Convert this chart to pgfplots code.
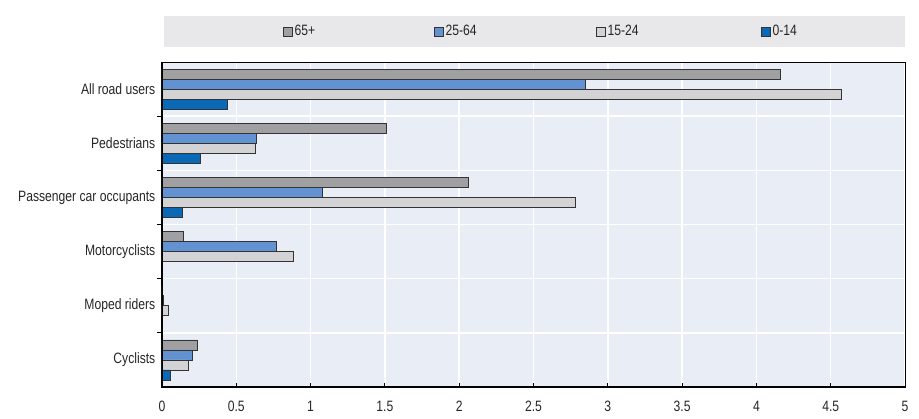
\documentclass[border=0pt]{standalone}
\usepackage{fontspec}
\setmainfont{Liberation Sans}[FakeStretch=0.81]
\usepackage{pgfplots}
\pgfplotsset{compat=1.18}
\definecolor{cOld}{HTML}{A0A0A2}
\definecolor{cAdult}{HTML}{6292D2}
\definecolor{cYouth}{HTML}{D3D3D5}
\definecolor{cChild}{HTML}{0A69B6}
\definecolor{plotbg}{HTML}{E9EDF6}
\definecolor{legbg}{HTML}{E8E8EA}
\definecolor{barline}{HTML}{333333}
\begin{document}
\fontsize{15bp}{17bp}\selectfont
\begin{tikzpicture}
\useasboundingbox (-162bp,-32bp) rectangle (757bp,387bp);
\fill[legbg] (2bp,340.3bp) rectangle (743bp,371bp);
\begin{axis}[
  at={(0,0)}, anchor=south west,
  scale only axis, width=743bp, height=325bp,
  xmin=0, xmax=5, ymin=-0.5, ymax=5.5,
  axis background/.style={fill=plotbg},
  axis line style={black, line width=1bp},
  xtick={0,0.5,...,5},
  ytick={0,1,2,3,4,5},
  yticklabels={Cyclists,Moped riders,Motorcyclists,Passenger car occupants,Pedestrians,All road users},
  minor ytick={0.5,1.5,2.5,3.5,4.5},
  tick align=inside, tick pos=left,
  major tick length=4.5bp, minor tick length=4.5bp,
  major y tick style={draw=none},
  minor y tick style={draw=black, line width=1bp},
  major x tick style={draw=black, line width=1bp},
  xmajorgrids, yminorgrids,
  major grid style={white, line width=1.5bp},
  minor grid style={white, line width=1.5bp},
  /pgf/number format/assume math mode=true,
  ticklabel style={font=\fontsize{15bp}{17bp}\selectfont, text=black!85},
  yticklabel style={inner sep=0pt, xshift=-2bp},
  xticklabel style={inner sep=0pt, yshift=-14bp},
  xbar, bar width=10bp,
  every axis plot/.append style={draw=barline, line width=0.6bp},
  legend columns=4,
  legend image code/.code={\draw[#1, line width=0.6bp] (0bp,-4.5bp) rectangle (9bp,4.5bp);},
  legend style={at={(axis description cs:0.5,1)}, anchor=center, xshift=15.3bp, yshift=30.5bp,
    draw=none, fill=none, font=\fontsize{15bp}{17bp}\selectfont, text=black!85,
    nodes={inner sep=1.5bp}, column sep=0pt},
]
\addplot[fill=cOld, bar shift=15bp] coordinates {
  (4.16,5) (1.51,4) (2.06,3) (0.145,2) (0.005,1) (0.24,0)};
\addlegendentry[text width=138.4bp, align=left]{65+}
\addplot[fill=cAdult, bar shift=5bp] coordinates {
  (2.85,5) (0.635,4) (1.08,3) (0.772,2) (0.012,1) (0.207,0)};
\addlegendentry[text width=149.4bp, align=left]{25-64}
\addplot[fill=cYouth, bar shift=-5bp] coordinates {
  (4.57,5) (0.628,4) (2.78,3) (0.886,2) (0.04,1) (0.175,0)};
\addlegendentry[text width=152.4bp, align=left]{15-24}
\addplot[fill=cChild, bar shift=-15bp] coordinates {
  (0.442,5) (0.256,4) (0.135,3) (0.056,0)};
\addlegendentry[text width=40bp, align=left]{0-14}
\draw[black, line width=2bp] (rel axis cs:0,1) -- (rel axis cs:0,0) -- (rel axis cs:1,0);
\end{axis}
\end{tikzpicture}
\end{document}
